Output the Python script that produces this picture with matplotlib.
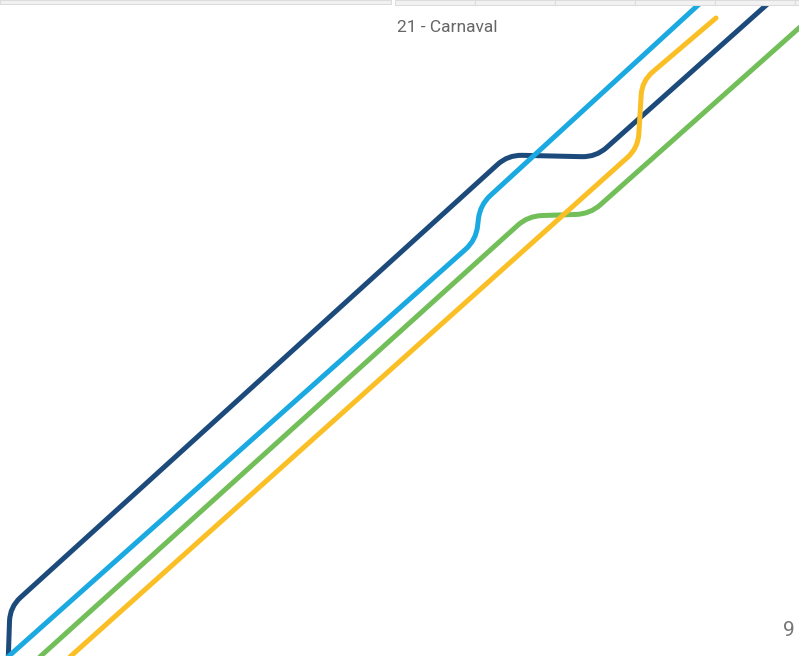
import numpy as np
import matplotlib
matplotlib.use("Agg")
import matplotlib.pyplot as plt
from matplotlib.path import Path
from matplotlib.patches import PathPatch, Rectangle

navy_x = [8, 10, 508, 596, 772]
navy_y = [-10, 49, 501, 499, 656]

blue_x = [0, 476, 480, 708]
blue_y = [-8, 416, 451, 660]

green_x = [32, 528, 590, 808]
green_y = [-8, 440, 442, 636]

yellow_x = [62, 638, 642, 716]
yellow_y = [-8, 508, 575, 638]

series = [
    (navy_x, navy_y, "#1b4a7b"),
    (blue_x, blue_y, "#1aa9e0"),
    (green_x, green_y, "#72bf5a"),
    (yellow_x, yellow_y, "#fbbf26"),
]

label_text = "21 - Carnaval"
corner_text = "9"


def rounded_path(xs, ys, r=14):
    pts = np.column_stack([xs, ys]).astype(float)
    verts = [pts[0]]
    codes = [Path.MOVETO]
    for i in range(1, len(pts) - 1):
        p0, p1, p2 = pts[i - 1], pts[i], pts[i + 1]
        d1 = p0 - p1
        d2 = p2 - p1
        rr = min(r, np.linalg.norm(d1) / 2, np.linalg.norm(d2) / 2)
        a = p1 + d1 / np.linalg.norm(d1) * rr
        b = p1 + d2 / np.linalg.norm(d2) * rr
        verts += [a, p1, b]
        codes += [Path.LINETO, Path.CURVE3, Path.CURVE3]
    verts.append(pts[-1])
    codes.append(Path.LINETO)
    return Path(verts, codes)


fig = plt.figure(figsize=(7.99, 6.56), dpi=100)
ax = fig.add_axes([0, 0, 1, 1])
ax.set_xlim(0, 799)
ax.set_ylim(0, 656)
ax.axis("off")

for xs, ys, c in series:
    ax.add_patch(PathPatch(rounded_path(xs, ys), fill=False, edgecolor=c,
                           linewidth=3.6, capstyle="round", joinstyle="round"))

# header strip along the top
ax.add_patch(Rectangle((0, 652), 391, 4, facecolor="#f2f2f2",
                       edgecolor="#dcdcdc", linewidth=0.8))
for x0 in range(395, 799, 80):
    ax.add_patch(Rectangle((x0, 651), 80, 5, facecolor="#f2f2f2",
                           edgecolor="#dcdcdc", linewidth=0.8))

narrow = ["Liberation Sans Narrow", "Roboto", "DejaVu Sans"]
ax.text(397, 628, label_text, fontsize=12.5, color="#666666",
        family=narrow, ha="left", va="center")
ax.text(795, 26, corner_text, fontsize=15, color="#777777",
        family=narrow, ha="right", va="center")

fig.savefig("out.png", dpi=100)
